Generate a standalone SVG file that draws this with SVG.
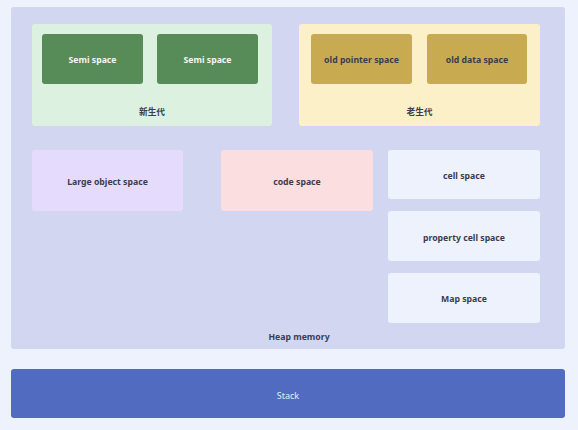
<svg xmlns="http://www.w3.org/2000/svg" width="578" height="430" viewBox="0 0 578 430">
<style>
text{font-family:"Noto Sans","Noto Sans CJK SC","Liberation Sans",sans-serif;font-size:8.7px;font-weight:bold;text-anchor:middle;dominant-baseline:central;fill:#3b3d4f}
.w{fill:#f4f6f2}
.s{fill:#e6ecfa;font-weight:normal;font-size:9px}
</style>
<rect x="0" y="0" width="578" height="430" fill="#eef2fc"/>
<g id="heap">
<rect x="11" y="7" width="554" height="342" rx="3" fill="#d2d6f1"/>
<text x="299" y="337">Heap memory</text>
</g>
<g id="new-gen">
<rect x="32" y="24" width="240" height="102" rx="3" fill="#dcf1e0"/>
<text x="152" y="111.5">新生代</text>
</g>
<g id="semi1">
<rect x="42" y="34" width="101" height="50" rx="3" fill="#578b57"/>
<text class="w" x="92.5" y="60">Semi space</text>
</g>
<g id="semi2">
<rect x="157" y="34" width="101" height="50" rx="3" fill="#578b57"/>
<text class="w" x="207.5" y="60">Semi space</text>
</g>
<g id="old-gen">
<rect x="299" y="24" width="241" height="102" rx="3" fill="#fbf0c8"/>
<text x="419.5" y="111.5">老生代</text>
</g>
<g id="old-pointer">
<rect x="311" y="34" width="101" height="50" rx="3" fill="#c8ab50"/>
<text x="361.5" y="60">old pointer space</text>
</g>
<g id="old-data">
<rect x="427" y="34" width="100" height="50" rx="3" fill="#c8ab50"/>
<text x="477" y="60">old data space</text>
</g>
<g id="large-object">
<rect x="32" y="150" width="151" height="61" rx="3" fill="#e5dcfd"/>
<text x="107.5" y="182">Large object space</text>
</g>
<g id="code">
<rect x="221" y="150" width="152" height="61" rx="3" fill="#fbdfe0"/>
<text x="297" y="182">code space</text>
</g>
<g id="cell">
<rect x="388" y="150" width="152" height="49" rx="3" fill="#eef2fd"/>
<text x="464" y="176">cell space</text>
</g>
<g id="property-cell">
<rect x="388" y="211" width="152" height="50" rx="3" fill="#eef2fd"/>
<text x="464" y="238">property cell space</text>
</g>
<g id="map">
<rect x="388" y="273" width="152" height="50" rx="3" fill="#eef2fd"/>
<text x="464" y="299">Map space</text>
</g>
<g id="stack">
<rect x="11" y="369" width="554" height="49" rx="3" fill="#506bbf"/>
<text class="s" x="288" y="395">Stack</text>
</g>
<g id="connectors"/>
</svg>
